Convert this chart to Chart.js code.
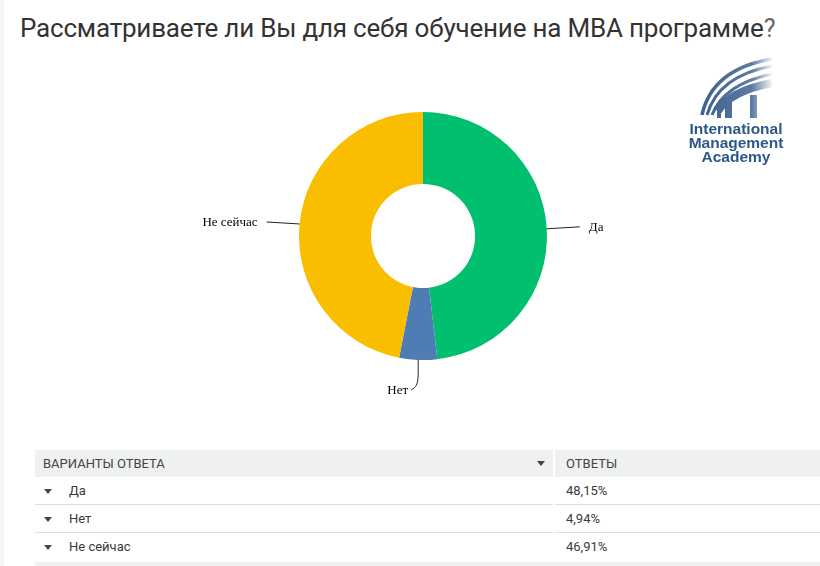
<!DOCTYPE html>
<html><head><meta charset="utf-8">
<script src="https://cdn.jsdelivr.net/npm/chart.js@4.4.1/dist/chart.umd.min.js"></script>
<style>
html,body{margin:0;padding:0;background:#fff;width:820px;height:566px;overflow:hidden;position:relative;font-family:Roboto,"Liberation Sans",sans-serif;}
#edge{position:absolute;left:0;top:0;width:4px;height:566px;background:#f5f5f5;}
#title{position:absolute;left:20px;top:13px;font-size:26px;color:#333;white-space:nowrap;letter-spacing:-0.2px;}
#title .q{color:#666;font-size:25px;}
#wrap{position:absolute;left:0;top:0;width:820px;height:440px;}
#logo{position:absolute;left:670px;top:55px;width:140px;height:115px;}
#tbl{position:absolute;left:35px;top:450px;width:785px;border-collapse:collapse;font-size:13px;color:#3a3a3a;}
#tbl th{background:#eff0f0;font-weight:normal;text-align:left;height:27px;padding:0;color:#444;}
#tbl td{height:27px;padding:0;border-bottom:1px solid #ddd;}
#tbl tr.last td{border-bottom:none;}
.c1{width:510px;}
.hc1{padding-left:8px !important;}
.sep{border-right:2px solid #fff;position:relative;}
.tri{display:inline-block;width:0;height:0;border-left:4px solid transparent;border-right:4px solid transparent;border-top:5px solid #444;vertical-align:middle;margin:0 17px 0 9px;}
.htri{position:absolute;right:8px;top:11px;width:0;height:0;border-left:4px solid transparent;border-right:4px solid transparent;border-top:5px solid #444;}
#foot{position:absolute;left:35px;top:562px;width:785px;height:4px;background:#eff0f0;}
</style></head><body>
<div id="edge"></div>
<div id="title">Рассматриваете ли Вы для себя обучение на MBA программе<span class="q">?</span></div>
<div id="wrap"><canvas id="c" width="820" height="440"></canvas></div>
<svg id="logo" viewBox="0 0 140 115">
<defs><linearGradient id="g" x1="0" x2="1" y1="0" y2="0"><stop offset="0" stop-color="#3d5f8c"/><stop offset="0.65" stop-color="#5878a2"/><stop offset="1" stop-color="#ffffff"/></linearGradient>
<linearGradient id="g2" gradientUnits="userSpaceOnUse" x1="30" x2="104" y1="0" y2="0"><stop offset="0" stop-color="#3d5f8c"/><stop offset="0.7" stop-color="#5c7ba4"/><stop offset="1" stop-color="#ffffff"/></linearGradient></defs>
<g fill="none" stroke="url(#g2)">
<path d="M32 60 Q42 14 102 4" stroke-width="3.5"/>
<path d="M37 60 Q48 21 102 11" stroke-width="3"/>
<path d="M42 60 Q54 29 102 19" stroke-width="3"/>
<path d="M48 56 Q60 36 102 28" stroke-width="8"/>
</g>
<g fill="url(#g2)">
<rect x="47" y="48" width="4" height="15"/>
<rect x="55" y="45" width="7" height="18"/>
<rect x="80" y="40" width="7" height="23"/>
</g>
<g font-family="'Liberation Sans',Arial,sans-serif" font-size="15.5" fill="#2d5889" text-anchor="middle" font-weight="bold">
<text x="66" y="79">International</text>
<text x="66" y="93">Management</text>
<text x="66" y="107">Academy</text>
</g>
</svg>
<table id="tbl"><thead><tr><th class="c1 hc1 sep">ВАРИАНТЫ ОТВЕТА<span class="htri"></span></th><th style="padding-left:11px">ОТВЕТЫ</th></tr></thead><tbody id="tb"></tbody></table>
<div id="foot"></div>
<script>
const categories = ["Да", "Нет", "Не сейчас"];
const shares = [48.15, 4.94, 46.91];
const shareLabels = ["48,15%", "4,94%", "46,91%"];
const colors = ["#00bf6f", "#507cb6", "#f9be00"];

// table
const tb = document.getElementById('tb');
categories.forEach((c, i) => {
  const tr = document.createElement('tr');
  if (i === categories.length - 1) tr.className = 'last';
  tr.innerHTML = '<td class="c1" style="border-right:2px solid transparent"><span class="tri"></span>' + c + '</td><td style="padding-left:11px">' + shareLabels[i] + '</td>';
  tb.appendChild(tr);
});

const leader = {
  id: 'leader',
  afterDatasetsDraw(chart) {
    const ctx = chart.ctx;
    const meta = chart.getDatasetMeta(0);
    ctx.save();
    ctx.font = '13px "Liberation Serif", "DejaVu Serif", serif';
    ctx.fillStyle = '#000';
    ctx.strokeStyle = '#222';
    ctx.lineWidth = 1;
    meta.data.forEach((arc, i) => {
      const p = arc.getProps(['x','y','startAngle','endAngle','outerRadius'], true);
      const mid = (p.startAngle + p.endAngle) / 2;
      const sx = p.x + Math.cos(mid) * p.outerRadius;
      const sy = p.y + Math.sin(mid) * p.outerRadius;
      const cx = Math.cos(mid);
      ctx.beginPath();
      ctx.moveTo(sx, sy);
      if (Math.abs(cx) > 0.5) {
        const dir = cx > 0 ? 1 : -1;
        const ex = sx + dir * 33, ey = sy - 2;
        ctx.lineTo(ex, ey);
        ctx.stroke();
        ctx.textBaseline = 'middle';
        ctx.textAlign = dir > 0 ? 'left' : 'right';
        ctx.fillText(categories[i], ex + dir * 9, ey + 1);
      } else {
        const ex = sx - 7, ey = sy + 30;
        ctx.bezierCurveTo(sx, sy + 20, sx + 1, ey - 4, ex, ey);
        ctx.stroke();
        ctx.textBaseline = 'middle';
        ctx.textAlign = 'right';
        ctx.fillText(categories[i], ex - 3, ey + 1);
      }
    });
    ctx.restore();
  }
};

new Chart(document.getElementById('c'), {
  type: 'doughnut',
  data: { labels: categories, datasets: [{ data: shares, backgroundColor: colors, borderWidth: 0 }] },
  options: {
    responsive: false,
    animation: false,
    cutout: '42%',
    layout: { padding: { left: 299, right: 273, top: 112, bottom: 80 } },
    plugins: { legend: { display: false }, tooltip: { enabled: false } }
  },
  plugins: [leader]
});
</script>
</body></html>
